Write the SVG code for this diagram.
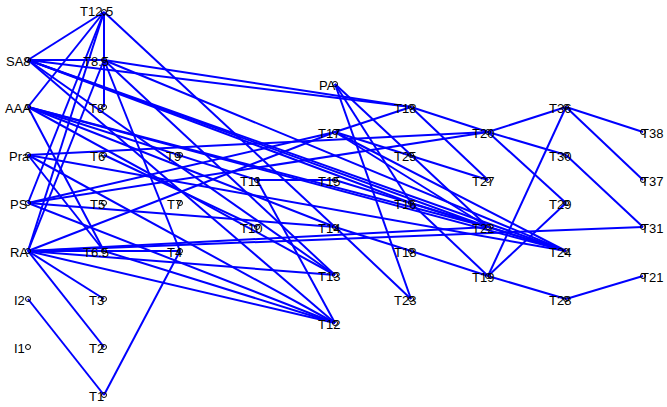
<svg xmlns="http://www.w3.org/2000/svg" width="667" height="407" viewBox="0 0 667 407">
<style>
.e line{stroke:#0000ff;stroke-width:2;fill:none}
.n circle{fill:none;stroke:#000;stroke-width:1}
.n text{font-family:"Liberation Sans",Arial,sans-serif;font-size:13px;fill:#000}
</style>
<rect width="667" height="407" fill="#fff"/>
<g id="connectors" class="e">
<line x1="104" y1="12" x2="28" y2="60"/>
<line x1="104" y1="12" x2="28" y2="107"/>
<line x1="104" y1="12" x2="104" y2="107"/>
<line x1="104" y1="12" x2="28" y2="251"/>
<line x1="104" y1="12" x2="28" y2="203"/>
<line x1="104" y1="12" x2="335" y2="227"/>
<line x1="28" y1="60" x2="104" y2="60"/>
<line x1="28" y1="60" x2="411" y2="107"/>
<line x1="28" y1="60" x2="566" y2="251"/>
<line x1="28" y1="60" x2="488" y2="227"/>
<line x1="28" y1="60" x2="335" y2="323"/>
<line x1="28" y1="60" x2="411" y2="203"/>
<line x1="28" y1="60" x2="335" y2="275"/>
<line x1="104" y1="60" x2="411" y2="107"/>
<line x1="104" y1="60" x2="566" y2="251"/>
<line x1="104" y1="60" x2="180" y2="251"/>
<line x1="104" y1="60" x2="335" y2="275"/>
<line x1="104" y1="60" x2="28" y2="251"/>
<line x1="28" y1="107" x2="566" y2="251"/>
<line x1="28" y1="107" x2="488" y2="227"/>
<line x1="28" y1="107" x2="335" y2="227"/>
<line x1="28" y1="107" x2="335" y2="275"/>
<line x1="28" y1="107" x2="257" y2="180"/>
<line x1="28" y1="107" x2="104" y2="251"/>
<line x1="28" y1="155" x2="104" y2="251"/>
<line x1="28" y1="155" x2="566" y2="251"/>
<line x1="28" y1="155" x2="335" y2="323"/>
<line x1="28" y1="155" x2="488" y2="132"/>
<line x1="28" y1="203" x2="335" y2="132"/>
<line x1="28" y1="203" x2="488" y2="132"/>
<line x1="28" y1="203" x2="335" y2="323"/>
<line x1="28" y1="203" x2="335" y2="227"/>
<line x1="28" y1="251" x2="335" y2="132"/>
<line x1="28" y1="251" x2="643" y2="227"/>
<line x1="28" y1="251" x2="335" y2="323"/>
<line x1="28" y1="251" x2="335" y2="275"/>
<line x1="28" y1="251" x2="104" y2="347"/>
<line x1="28" y1="251" x2="104" y2="299"/>
<line x1="28" y1="251" x2="488" y2="227"/>
<line x1="28" y1="251" x2="180" y2="251"/>
<line x1="104" y1="251" x2="335" y2="323"/>
<line x1="104" y1="155" x2="257" y2="227"/>
<line x1="180" y1="251" x2="104" y2="395"/>
<line x1="28" y1="299" x2="104" y2="395"/>
<line x1="257" y1="180" x2="335" y2="323"/>
<line x1="257" y1="180" x2="335" y2="180"/>
<line x1="335" y1="84" x2="411" y2="203"/>
<line x1="335" y1="84" x2="488" y2="227"/>
<line x1="335" y1="84" x2="411" y2="299"/>
<line x1="335" y1="132" x2="411" y2="107"/>
<line x1="335" y1="132" x2="566" y2="251"/>
<line x1="335" y1="132" x2="488" y2="227"/>
<line x1="335" y1="132" x2="488" y2="180"/>
<line x1="335" y1="227" x2="411" y2="299"/>
<line x1="335" y1="227" x2="411" y2="251"/>
<line x1="411" y1="251" x2="488" y2="276"/>
<line x1="411" y1="107" x2="488" y2="132"/>
<line x1="411" y1="107" x2="488" y2="180"/>
<line x1="488" y1="132" x2="566" y2="107"/>
<line x1="488" y1="132" x2="566" y2="155"/>
<line x1="488" y1="132" x2="566" y2="203"/>
<line x1="566" y1="107" x2="643" y2="132"/>
<line x1="566" y1="107" x2="643" y2="180"/>
<line x1="566" y1="107" x2="488" y2="276"/>
<line x1="566" y1="155" x2="643" y2="227"/>
<line x1="566" y1="203" x2="488" y2="276"/>
<line x1="488" y1="276" x2="566" y2="299"/>
<line x1="566" y1="299" x2="643" y2="276"/>
<line x1="411" y1="203" x2="566" y2="251"/>
<line x1="411" y1="203" x2="488" y2="276"/>
<line x1="335" y1="180" x2="566" y2="251"/>
</g>
<g id="n-T12.5" class="n"><circle cx="104" cy="12" r="2.5"/><text x="80" y="16">T12.5</text></g>
<g id="n-SA8" class="n"><circle cx="28" cy="60" r="2.5"/><text x="6" y="66">SA8</text></g>
<g id="n-T8.5" class="n"><circle cx="104" cy="60" r="2.5"/><text x="83" y="66">T8.5</text></g>
<g id="n-AAA" class="n"><circle cx="28" cy="107" r="2.5"/><text x="5" y="113">AAA</text></g>
<g id="n-T8" class="n"><circle cx="104" cy="107" r="2.5"/><text x="89" y="113">T8</text></g>
<g id="n-Pra" class="n"><circle cx="28" cy="155" r="2.5"/><text x="9" y="161">Pra</text></g>
<g id="n-T6" class="n"><circle cx="104" cy="155" r="2.5"/><text x="90" y="161">T6</text></g>
<g id="n-T9" class="n"><circle cx="180" cy="155" r="2.5"/><text x="166" y="161">T9</text></g>
<g id="n-PS" class="n"><circle cx="28" cy="203" r="2.5"/><text x="10" y="209">PS</text></g>
<g id="n-T5" class="n"><circle cx="104" cy="203" r="2.5"/><text x="90" y="209">T5</text></g>
<g id="n-T7" class="n"><circle cx="180" cy="203" r="2.5"/><text x="167" y="209">T7</text></g>
<g id="n-RA" class="n"><circle cx="28" cy="251" r="2.5"/><text x="10" y="257">RA</text></g>
<g id="n-T6.5" class="n"><circle cx="104" cy="251" r="2.5"/><text x="83" y="257">T6.5</text></g>
<g id="n-T4" class="n"><circle cx="180" cy="251" r="2.5"/><text x="167" y="257">T4</text></g>
<g id="n-I2" class="n"><circle cx="28" cy="299" r="2.5"/><text x="14" y="305">I2</text></g>
<g id="n-T3" class="n"><circle cx="104" cy="299" r="2.5"/><text x="89" y="305">T3</text></g>
<g id="n-I1" class="n"><circle cx="28" cy="347" r="2.5"/><text x="14" y="353">I1</text></g>
<g id="n-T2" class="n"><circle cx="104" cy="347" r="2.5"/><text x="89" y="353">T2</text></g>
<g id="n-T1" class="n"><circle cx="104" cy="395" r="2.5"/><text x="89" y="401">T1</text></g>
<g id="n-T11" class="n"><circle cx="257" cy="180" r="2.5"/><text x="240" y="186">T11</text></g>
<g id="n-T10" class="n"><circle cx="257" cy="227" r="2.5"/><text x="240" y="233">T10</text></g>
<g id="n-PA" class="n"><circle cx="335" cy="84" r="2.5"/><text x="319" y="90">PA</text></g>
<g id="n-T17" class="n"><circle cx="335" cy="132" r="2.5"/><text x="318" y="138">T17</text></g>
<g id="n-T15" class="n"><circle cx="335" cy="180" r="2.5"/><text x="318" y="186">T15</text></g>
<g id="n-T14" class="n"><circle cx="335" cy="227" r="2.5"/><text x="318" y="233">T14</text></g>
<g id="n-T13" class="n"><circle cx="335" cy="275" r="2.5"/><text x="318" y="281">T13</text></g>
<g id="n-T12" class="n"><circle cx="335" cy="323" r="2.5"/><text x="318" y="329">T12</text></g>
<g id="n-T18" class="n"><circle cx="411" cy="107" r="2.5"/><text x="394" y="113">T18</text></g>
<g id="n-T25" class="n"><circle cx="411" cy="155" r="2.5"/><text x="394" y="161">T25</text></g>
<g id="n-T16" class="n"><circle cx="411" cy="203" r="2.5"/><text x="394" y="209">T16</text></g>
<g id="n-T18b" class="n"><circle cx="411" cy="251" r="2.5"/><text x="394" y="257">T18</text></g>
<g id="n-T23" class="n"><circle cx="411" cy="299" r="2.5"/><text x="394" y="305">T23</text></g>
<g id="n-T20" class="n"><circle cx="488" cy="132" r="2.5"/><text x="472" y="138">T20</text></g>
<g id="n-T27" class="n"><circle cx="488" cy="180" r="2.5"/><text x="472" y="186">T27</text></g>
<g id="n-T22" class="n"><circle cx="488" cy="227" r="2.5"/><text x="472" y="233">T22</text></g>
<g id="n-T19" class="n"><circle cx="488" cy="276" r="2.5"/><text x="472" y="282">T19</text></g>
<g id="n-T36" class="n"><circle cx="566" cy="107" r="2.5"/><text x="549" y="113">T36</text></g>
<g id="n-T30" class="n"><circle cx="566" cy="155" r="2.5"/><text x="549" y="161">T30</text></g>
<g id="n-T29" class="n"><circle cx="566" cy="203" r="2.5"/><text x="549" y="209">T29</text></g>
<g id="n-T24" class="n"><circle cx="566" cy="251" r="2.5"/><text x="549" y="257">T24</text></g>
<g id="n-T28" class="n"><circle cx="566" cy="299" r="2.5"/><text x="549" y="305">T28</text></g>
<g id="n-T38" class="n"><circle cx="643" cy="132" r="2.5"/><text x="641" y="138">T38</text></g>
<g id="n-T37" class="n"><circle cx="643" cy="180" r="2.5"/><text x="641" y="186">T37</text></g>
<g id="n-T31" class="n"><circle cx="643" cy="227" r="2.5"/><text x="641" y="233">T31</text></g>
<g id="n-T21" class="n"><circle cx="643" cy="276" r="2.5"/><text x="641" y="282">T21</text></g>
</svg>
